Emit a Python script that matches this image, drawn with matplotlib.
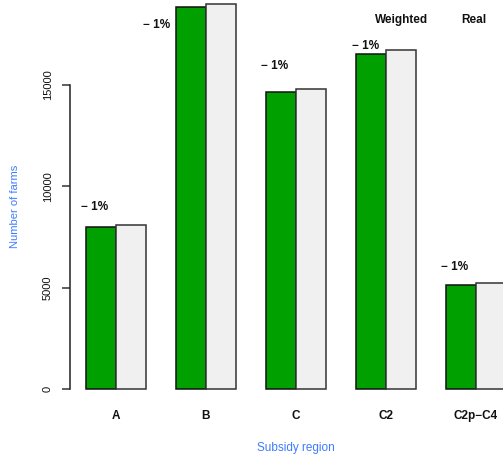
import matplotlib
matplotlib.use("Agg")
import matplotlib.pyplot as plt
import numpy as np

regions = ["A", "B", "C", "C2", "C2p\u2212C4"]
weighted = [8010, 18830, 14670, 16530, 5130]
real = [8090, 18980, 14800, 16720, 5210]
change_labels = ["\u2212 1%", "\u2212 1%", "\u2212 1%", "\u2212 1%", "\u2212 1%"]
yticks = [0, 5000, 10000, 15000]
ytick_labels = ["0", "5000", "10000", "15000"]
series_names = ["Weighted", "Real"]

# label placement (x offset in bar units from the green bar's left edge, y in data units)
label_dx = [0.3, -0.65, 0.28, 0.33, 0.3]
label_y = [8980, 17960, 15930, 16920, 6030]

W, H = 503, 459
fig = plt.figure(figsize=(W / 100, H / 100), dpi=100)
plt.rcParams['font.family'] = ['Liberation Sans', 'DejaVu Sans']

# pixel geometry
px0 = 56.0      # pixel x of unit 0
ppu = 30.0      # pixels per bar unit
ax_left_px = 70.0
ax_right_px = 520.0
y0_px = 389.0
ymax = 19190.0
ax = fig.add_axes([ax_left_px / W, (H - y0_px) / H,
                   (ax_right_px - ax_left_px) / W, y0_px / H])
ax.set_xlim((ax_left_px - px0) / ppu, (ax_right_px - px0) / ppu)
ax.set_ylim(0, ymax)
ax.patch.set_visible(False)

green = "#00A000"
grey = "#F0F0F0"
for i in range(len(regions)):
    left = 1 + 3 * i
    ax.bar(left, weighted[i], width=1, align="edge", color=green,
           edgecolor="#111111", linewidth=1.1, clip_on=False)
    ax.bar(left + 1, real[i], width=1, align="edge", color=grey,
           edgecolor="#333333", linewidth=1.1, clip_on=False)
    ax.text(left + label_dx[i], label_y[i], change_labels[i], ha="center",
            va="center", fontsize=8.5, fontweight="bold", color="#111111")

for s in ["top", "right", "bottom"]:
    ax.spines[s].set_visible(False)
ax.spines["left"].set_bounds(0, 15000)
ax.spines["left"].set_color("#222222")
ax.spines["left"].set_linewidth(1.1)
ax.set_yticks(yticks)
ax.set_yticklabels(ytick_labels, rotation=90, va="center", fontsize=8, color="#111111")
ax.tick_params(axis="y", length=6, width=1.1, color="#333333", pad=6.5)
ax.set_xticks([])

for i, r in enumerate(regions):
    cx = (px0 + ppu * (2 + 3 * i)) / W
    fig.text(cx, 1 - 416 / H, r, ha="center", va="center", fontsize=8.5,
             fontweight="bold", color="#111111")

blue = "#3D7BFF"
fig.text(15 / W, 1 - 206 / H, "Number of farms", rotation=90, ha="center",
         va="center", fontsize=8, color=blue)
fig.text(296 / W, 1 - 448 / H, "Subsidy region", ha="center", va="center",
         fontsize=8.5, color=blue)

fig.text(402 / W, 1 - 20 / H, series_names[0], ha="center", va="center",
         fontsize=8.5, fontweight="bold", color="#111111")
fig.text(474 / W, 1 - 20 / H, series_names[1], ha="center", va="center",
         fontsize=8.5, fontweight="bold", color="#111111")

fig.savefig("out.png", dpi=100)
